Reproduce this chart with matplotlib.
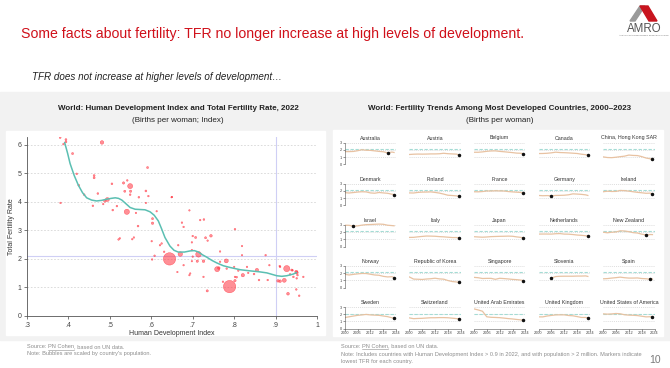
import numpy as np
import matplotlib
matplotlib.use("Agg")
import matplotlib.pyplot as plt
from matplotlib.patches import Rectangle, Polygon

plt.rcParams['font.family'] = ['Liberation Sans', 'DejaVu Sans']

# ---- left chart: HDI vs TFR, 2022 (bubble = population, millions) ----
hdi = [.380, .394, .394, .388, .481, .410, .420, .462, .462, .425, .505, .533, .549, .542,
       .536, .550, .549, .570, .587, .591, .593, .650, .471, .438, .381, .459, .488, .494,
       .484, .507, .517, .541, .563, .568, .587, .613, .603, .603, .649, .692, .674, .678,
       .727, .718, .802, .744, .731, .700, .707, .698, .736, .521, .524, .554, .558, .601,
       .621, .625, .631, .602, .608, .644, .670, .663, .678, .692, .700, .714, .711, .726,
       .698, .766, .819, .819, .876, .766, .781, .759, .763, .782, .800, .810, .821, .855,
       .848, .860, .881, .885, .906, .911, .921, .911, .927, .939, .950, .951, .943, .951,
       .967, .930, .950, .957, .735, .789, .773, .802, .806, .726, .694, .665, .698, .802,
       .831, .834, .910, .935, .941, .953]
tfr = [6.25, 6.18, 6.10, 6.02, 6.08, 5.69, 4.98, 4.92, 4.84, 4.58, 4.63, 4.66, 4.55, 4.75,
       4.37, 4.37, 4.25, 4.16, 4.38, 5.20, 4.20, 4.17, 4.29, 4.25, 3.96, 3.86, 4.03, 4.08,
       3.92, 3.71, 3.85, 3.65, 3.61, 3.15, 3.96, 3.67, 3.41, 3.25, 4.16, 3.70, 3.27, 3.12,
       3.38, 3.36, 3.04, 2.81, 2.74, 2.80, 2.75, 2.58, 2.64, 2.68, 2.72, 2.69, 2.75, 2.62,
       2.48, 2.54, 2.25, 1.98, 2.11, 2.00, 2.17, 1.54, 1.78, 1.43, 2.08, 2.16, 1.92, 1.92,
       1.92, 2.26, 2.45, 2.13, 2.13, 1.90, 1.93, 1.64, 1.68, 1.66, 1.72, 1.59, 1.43, 1.61,
       1.47, 1.26, 1.26, 1.78, 1.23, 1.22, 1.25, 1.72, 1.66, 1.61, 1.55, 1.52, 1.37, 1.32,
       1.37, 0.78, 0.93, 0.71, 0.88, 1.03, 1.20, 1.24, 1.36, 1.37, 1.49, 2.48, 2.31, 1.37,
       1.72, 1.51, 1.75, 1.46, 1.60, 1.43]
pop = [12, 15, 18, 5, 100, 20, 8, 15, 18, 10, 12, 30, 220, 5,
       20, 30, 8, 10, 15, 18, 5, 2, 10, 8, 5, 8, 40, 125,
       3, 10, 8, 235, 3, 12, 1, 2, 20, 35, 1, 1, 5, 4,
       10, 5, 8, 45, 20, 5, 20, 3, 3, 3, 4, 4, 3, 3,
       5, 5, 6, 4, 6, 1420, 170, 1, 3, 1, 3, 275, 30, 45,
       2, 3, 2, 1, 5, 5, 128, 215, 40, 5, 3, 5, 85, 85,
       10, 8, 5, 3, 40, 45, 125, 5, 335, 20, 65, 67, 10, 5,
       4, 51, 6, 7, 25, 1425, 5, 30, 10, 3, 1, 5, 3, 3,
       4, 3, 5, 8, 4, 6]

# smoothed fit
curve_hdi = [.391, .398, .404, .414, .424, .434, .444, .456, .468, .480, .492, .503, .513,
             .521, .529, .539, .549, .561, .573, .585, .597, .607, .617, .625, .633, .645,
             .655, .665, .680, .694, .704, .714, .724, .734, .746, .758, .774, .790, .815,
             .839, .860, .879, .891, .903, .915, .927, .943, .950]
curve_tfr = [6.07, 5.70, 5.34, 4.92, 4.58, 4.32, 4.14, 4.06, 4.03, 4.05, 4.09, 4.12, 4.14,
             4.12, 4.06, 3.93, 3.80, 3.74, 3.73, 3.72, 3.65, 3.53, 3.33, 3.05, 2.75, 2.45,
             2.30, 2.24, 2.24, 2.28, 2.29, 2.24, 2.14, 2.06, 1.95, 1.86, 1.76, 1.70, 1.62,
             1.58, 1.55, 1.51, 1.46, 1.41, 1.39, 1.41, 1.47, 1.52]

hdi_ticks = [.3, .4, .5, .6, .7, .8, .9, 1]
hdi_labels = ['.3', '.4', '.5', '.6', '.7', '.8', '.9', '1']

# ---- right chart: TFR trends, most developed countries ----
trend_years = [2000, 2002, 2004, 2006, 2008, 2010, 2012, 2014, 2016, 2018, 2020, 2022, 2023]
countries = ['Australia', 'Austria', 'Belgium', 'Canada', 'China, Hong Kong SAR',
             'Denmark', 'Finland', 'France', 'Germany', 'Ireland',
             'Israel', 'Italy', 'Japan', 'Netherlands', 'New Zealand',
             'Norway', 'Republic of Korea', 'Singapore', 'Slovenia', 'Spain',
             'Sweden', 'Switzerland', 'United Arab Emirates', 'United Kingdom',
             'United States of America']
nan = float('nan')
trend_values = [
    [1.76, 1.76, 1.78, 1.88, 2.02, 1.95, 1.93, 1.86, 1.79, 1.74, 1.58, 1.70, 1.64],
    [1.36, 1.40, 1.42, 1.41, 1.42, 1.44, 1.44, 1.46, 1.53, 1.47, 1.44, 1.41, 1.32],
    [1.67, 1.67, 1.72, 1.80, 1.85, 1.86, 1.79, 1.74, 1.68, 1.62, 1.55, 1.53, 1.47],
    [1.49, 1.50, 1.53, 1.59, 1.68, 1.63, 1.61, 1.58, 1.54, 1.50, 1.40, 1.33, 1.28],
    [1.03, 0.94, 0.92, 0.98, 1.06, 1.13, 1.28, 1.23, 1.21, 1.07, 0.87, 0.76, 0.70],
    [1.77, 1.72, 1.78, 1.85, 1.89, 1.87, 1.73, 1.69, 1.79, 1.73, 1.68, 1.55, 1.50],
    [1.73, 1.72, 1.80, 1.84, 1.85, 1.87, 1.80, 1.71, 1.57, 1.41, 1.37, 1.32, 1.26],
    [1.89, 1.88, 1.92, 2.00, 2.00, 2.03, 2.01, 2.00, 1.92, 1.87, 1.83, 1.79, 1.66],
    [1.38, 1.34, 1.36, 1.33, 1.38, 1.39, 1.41, 1.47, 1.60, 1.57, 1.53, 1.46, 1.38],
    [1.89, 1.97, 1.93, 1.94, 2.07, 2.05, 1.98, 1.89, 1.81, 1.75, 1.68, 1.70, 1.58],
    [2.95, 2.94, 2.82, 2.86, 2.96, 3.03, 3.05, 3.08, 3.11, 3.08, 2.95, 2.90, 2.87],
    [1.26, 1.27, 1.34, 1.40, 1.45, 1.44, 1.42, 1.37, 1.34, 1.29, 1.24, 1.24, 1.20],
    [1.36, 1.32, 1.29, 1.32, 1.37, 1.39, 1.41, 1.42, 1.44, 1.42, 1.33, 1.26, 1.20],
    [1.72, 1.73, 1.73, 1.72, 1.77, 1.79, 1.72, 1.71, 1.66, 1.59, 1.55, 1.49, 1.43],
    [1.98, 1.90, 1.98, 2.01, 2.18, 2.15, 2.06, 1.92, 1.87, 1.71, 1.61, 1.66, 1.65],
    [1.85, 1.75, 1.83, 1.90, 1.96, 1.95, 1.85, 1.75, 1.71, 1.56, 1.48, 1.51, 1.40],
    [1.48, 1.18, 1.16, 1.13, 1.19, 1.23, 1.30, 1.21, 1.17, 0.98, 0.84, 0.78, 0.72],
    [1.42, 1.37, 1.26, 1.28, 1.28, 1.15, 1.29, 1.25, 1.20, 1.14, 1.10, 1.04, 0.97],
    [nan, nan, nan, 1.33, 1.53, 1.57, 1.58, 1.58, 1.58, 1.60, 1.60, 1.62, 1.55],
    [1.22, 1.25, 1.32, 1.38, 1.45, 1.37, 1.32, 1.32, 1.34, 1.26, 1.23, 1.16, 1.19],
    [1.54, 1.65, 1.75, 1.85, 1.91, 1.98, 1.91, 1.88, 1.85, 1.76, 1.67, 1.52, 1.45],
    [1.50, 1.39, 1.42, 1.44, 1.48, 1.52, 1.52, 1.54, 1.54, 1.52, 1.46, 1.40, 1.37],
    [2.75, 2.60, 2.42, 1.65, 1.58, 1.56, 1.53, 1.47, 1.40, 1.35, 1.28, 1.22, 1.16],
    [1.64, 1.64, 1.76, 1.84, 1.91, 1.92, 1.92, 1.83, 1.79, 1.68, 1.56, 1.56, 1.49],
    [2.06, 2.02, 2.05, 2.11, 2.07, 1.93, 1.88, 1.86, 1.82, 1.73, 1.64, 1.66, 1.62],
]
year_ticks = [2000, 2006, 2012, 2018, 2024]

W, H = 670, 368
fig = plt.figure(figsize=(W / 100, H / 100), dpi=100)
fig.patch.set_facecolor('white')


def fx(x):
    return x / W


def fy(y):
    return 1 - y / H


def box(x0, y0, x1, y1, color):
    fig.patches.append(Rectangle((fx(x0), fy(y1)), (x1 - x0) / W, (y1 - y0) / H,
                                 transform=fig.transFigure, color=color, zorder=-5))


box(0, 92, 670, 340, '#f2f2f2')
box(6, 131, 325, 335, 'white')
box(333, 130, 663, 336, 'white')

# headline + logo
fig.text(fx(21), fy(34), 'Some facts about fertility: TFR no longer increase at high levels of development.',
         color='#d0101a', fontsize=10.2, va='center')
fig.text(fx(32), fy(77), 'TFR does not increase at higher levels of development\u2026',
         color='#222222', fontsize=7.1, style='italic', va='center')

gray_poly = [(630, 21), (640, 6), (645, 6), (635, 21)]
red_poly = [(640, 6), (648, 6), (657, 21), (649, 21)]
for pts, col in [(gray_poly, '#9a9a9a'), (red_poly, '#c8141e')]:
    fig.patches.append(Polygon([(fx(a), fy(b)) for a, b in pts], closed=True,
                               transform=fig.transFigure, color=col))
fig.text(fx(644), fy(28.5), 'AMRO', fontsize=8.3, color='#555555', ha='center', va='center')
fig.text(fx(644), fy(35), 'ASEAN+3 MACROECONOMIC RESEARCH OFFICE', fontsize=1.5,
         color='#777777', ha='center', va='center')

# ---- scatter ----
fig.text(fx(178), fy(109), 'World: Human Development Index and Total Fertility Rate, 2022',
         fontsize=5.8, weight='bold', ha='center', va='center', color='#222222')
fig.text(fx(178), fy(120), '(Births per woman; Index)', fontsize=5.8, ha='center',
         va='center', color='#222222')

ax = fig.add_axes([fx(27), fy(316), (317 - 27) / W, (316 - 137) / H])
ax.patch.set_visible(False)
ax.set_xlim(.3, 1.0)
ax.set_ylim(0, 6.27)
for g in range(1, 7):
    ax.axhline(g, color='#d6d6d6', lw=0.6, ls=(0, (2, 2)), zorder=0)
ax.axhline(2.1, color='#cfcff5', lw=0.8, zorder=1)
ax.axvline(.9, color='#cfcff5', lw=0.8, zorder=1)
sizes = [p * 0.055 + 1.2 for p in pop]
ax.scatter(hdi, tfr, s=sizes, facecolor=(1, 0.2, 0.25, 0.55),
           edgecolor=(1, 0.15, 0.2, 0.75), linewidth=0.3, zorder=3)
ax.plot(curve_hdi, curve_tfr, color='#5bbfb2', lw=1.1, zorder=4)
for s in ['top', 'right']:
    ax.spines[s].set_visible(False)
for s in ['left', 'bottom']:
    ax.spines[s].set_color('#555555')
    ax.spines[s].set_linewidth(0.6)
ax.set_xticks(hdi_ticks)
ax.set_xticklabels(hdi_labels)
ax.set_yticks(range(0, 7))
ax.tick_params(labelsize=5, colors='#444444', length=2.5, width=0.5, pad=1.5)
ax.set_xlabel('Human Development Index', fontsize=5, color='#333333', labelpad=1)
ax.set_ylabel('Total Fertility Rate', fontsize=5, color='#333333', labelpad=2)

# ---- small multiples ----
fig.text(fx(500), fy(109), 'World: Fertility Trends Among Most Developed Countries, 2000\u20132023',
         fontsize=5.8, weight='bold', ha='center', va='center', color='#222222')
fig.text(fx(500), fy(120), '(Births per woman)', fontsize=5.8, ha='center', va='center',
         color='#222222')

for k, name in enumerate(countries):
    r, c = divmod(k, 5)
    zero = 164.3 + 41.1 * r
    sa = fig.add_axes([fx(344.7 + 64.6 * c), fy(zero), 51.5 / W, 23.8 / H])
    sa.patch.set_visible(False)
    sa.set_xlim(2000, 2024)
    sa.set_ylim(0, 3.3)
    for g in range(0, 4):
        sa.axhline(g, color='#d2d2d2', lw=0.5, ls=(0, (1.5, 1.5)), zorder=0)
    sa.axhline(2.1, color='#a5dcd5', lw=0.8, ls=(0, (3, 1.5)), zorder=1)
    vals = np.array(trend_values[k], dtype=float)
    sa.plot(trend_years, vals, color='#e8c2a2', lw=0.9, zorder=2)
    i = int(np.nanargmin(vals))
    sa.plot(trend_years[i], vals[i], 'o', ms=1.5, color='#111111', zorder=3)
    sa.set_title(name, fontsize=3.8, pad=0.5, color='#333333')
    for s in ['top', 'right', 'left', 'bottom']:
        sa.spines[s].set_visible(False)
    sa.tick_params(length=1.2, width=0.4, labelsize=2.8, colors='#444444', pad=0.8)
    if c == 0:
        sa.spines['left'].set_visible(True)
        sa.spines['left'].set_bounds(0, 3)
        sa.spines['left'].set_linewidth(0.4)
        sa.spines['left'].set_color('#555555')
        sa.set_yticks([0, 1, 2, 3])
    else:
        sa.set_yticks([])
    if r == 4:
        sa.spines['bottom'].set_visible(True)
        sa.spines['bottom'].set_linewidth(0.4)
        sa.spines['bottom'].set_color('#555555')
        sa.set_xticks(year_ticks)
    else:
        sa.set_xticks([])

# ---- footnotes ----
renderer = fig.canvas.get_renderer()
NOTE_FS = 4.05


def source_line(x, y):
    t1 = fig.text(fx(x), fy(y), 'Source: ', fontsize=NOTE_FS, color='#8c8c8c', va='baseline')
    x1 = t1.get_window_extent(renderer).x1
    t2 = fig.text(x1 / W, fy(y), 'PN Cohen', fontsize=NOTE_FS, color='#8c8c8c', va='baseline')
    bb = t2.get_window_extent(renderer)
    fig.lines.append(plt.Line2D([bb.x0 / W, bb.x1 / W], [fy(y + 1.0)] * 2, lw=0.4,
                                color='#8c8c8c', transform=fig.transFigure))
    fig.text(bb.x1 / W, fy(y), ', based on UN data.', fontsize=NOTE_FS, color='#8c8c8c',
             va='baseline')


source_line(27, 348.5)
fig.text(fx(27), fy(355.5), "Note: Bubbles are scaled by country's population.",
         fontsize=NOTE_FS, color='#8c8c8c', va='baseline')
source_line(341, 347.5)
fig.text(fx(341), fy(356), 'Note: Includes countries with Human Development Index > 0.9 in 2022, '
         'and with population > 2 million. Markers indicate', fontsize=NOTE_FS, color='#8c8c8c',
         va='baseline')
fig.text(fx(341), fy(362.5), 'lowest TFR for each country.', fontsize=NOTE_FS, color='#8c8c8c',
         va='baseline')
fig.text(fx(655), fy(360), '10', fontsize=7.5, color='#7a7a7a', ha='center', va='center')

fig.savefig('out.png', dpi=100)
